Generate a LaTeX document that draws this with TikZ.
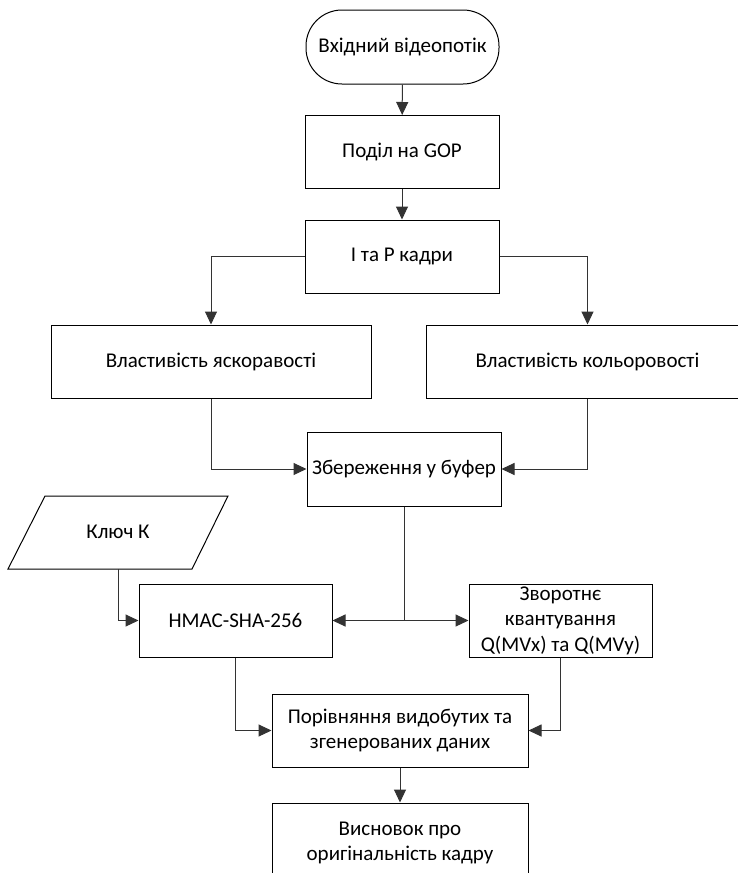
\documentclass[tikz,border=0pt]{standalone}
\usepackage{fontspec}
\setmainfont{Carlito}
\usetikzlibrary{arrows.meta}
\tikzset{
  x=1pt,y=-1pt,
  every node/.style={font=\fontsize{21}{25.5}\selectfont, align=center, inner sep=0pt},
  box/.style={draw=black, line width=1pt, rectangle, minimum height=73pt},
  term/.style={draw=black, line width=1pt, rectangle, rounded corners=36pt, minimum width=193pt, minimum height=74pt},
  conn/.style={draw=black!80, line width=1pt},
  arr/.style={conn, -{Triangle[width=12pt,length=13pt]}},
}
\begin{document}
\begin{tikzpicture}
\useasboundingbox (0,0) rectangle (737,873);
\fill[white] (0,0) rectangle (737,873);
\node[term] (start) at (402.5,47) {Вхідний відеопотік};
\node[box, minimum width=194pt] (gop) at (402,152) {Поділ на GOP};
\node[box, minimum width=194pt] (ip) at (402,256.5) {I та P кадри};
\node[box, minimum width=320pt] (bright) at (211,361.5) {Властивість яскоравості};
\node[box, minimum width=323pt] (color) at (587.5,361.5) {Властивість кольоровості};
\node[box, minimum width=194pt, minimum height=74pt] (buf) at (404,469) {Збереження у буфер};
\node (key) at (118,532) {Ключ К};
\draw[line width=1pt] (45,496) -- (228,496) -- (192,569) -- (8,569) -- cycle;
\coordinate (keyb) at (118.5,569);
\node[box, minimum width=193pt] (hmac) at (235.5,620.5) {HMAC-SHA-256};
\node[box, minimum width=183pt] (inv) at (560.5,620.5) {Зворотнє\\квантування\\Q(MVx) та Q(MVy)};
\node[box, minimum width=256pt] (cmp) at (400,730.5) {Порівняння видобутих та\\згенерованих даних};
\node[box, minimum width=256pt, minimum height=80pt] (concl) at (400,843) {Висновок про\\оригінальність кадру};
\draw[arr] (start) -- (gop);
\draw[arr] (gop) -- (ip);
\draw[arr] (ip.west) -| (bright.north);
\draw[arr] (ip.east) -| (color.north);
\draw[arr] (bright.south) |- (buf.west);
\draw[arr] (color.south) |- (buf.east);
\coordinate (j) at (buf.south |- hmac.east);
\draw[conn] (buf.south) -- (j);
\draw[arr] (j) -- (hmac.east);
\draw[arr] (j) -- (inv.west);
\draw[arr] (keyb) |- (hmac.west);
\draw[arr] (hmac.south) |- (cmp.west);
\draw[arr] (inv.south) |- (cmp.east);
\draw[arr] (cmp) -- (concl);
\end{tikzpicture}
\end{document}
